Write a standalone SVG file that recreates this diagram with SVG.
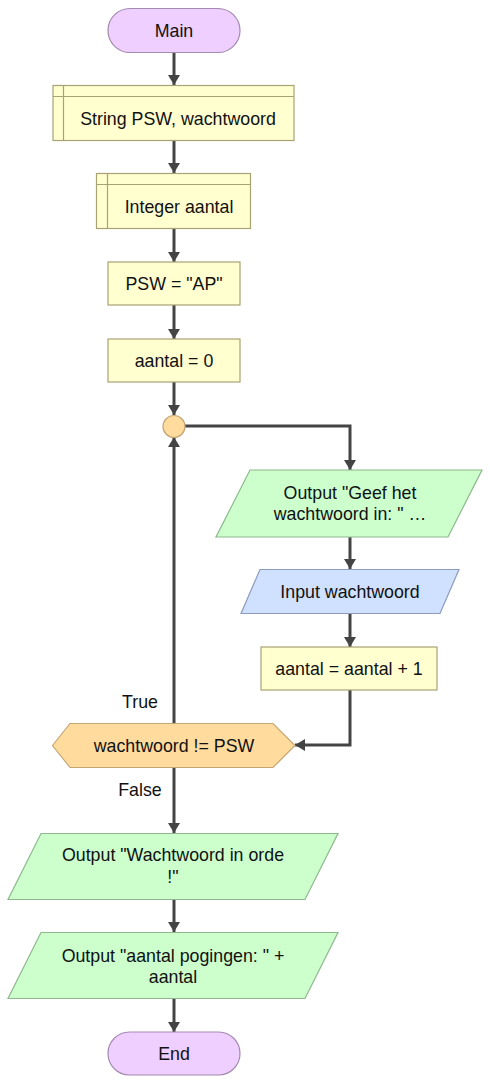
<svg xmlns="http://www.w3.org/2000/svg" width="490" height="1084" viewBox="0 0 490 1084">
<style>
text{font-family:"Liberation Sans",Arial,sans-serif;font-size:17.8px;fill:#111;text-anchor:middle}
.term{fill:#EECFFF;stroke:#A58AB0;stroke-width:1.2}
.proc{fill:#FFFFD0;stroke:#A8A274;stroke-width:1.2}
.out{fill:#CCFFCC;stroke:#8DB88D;stroke-width:1.2}
.inp{fill:#D0E0FF;stroke:#8C9CBC;stroke-width:1.2}
.dec{fill:#FFDC9E;stroke:#C4A674;stroke-width:1.2}
.conn{fill:none;stroke:#444;stroke-width:3;marker-end:url(#arr)}
</style>
<defs>
<marker id="arr" markerUnits="userSpaceOnUse" markerWidth="10" markerHeight="12" refX="10" refY="6" orient="auto">
<path d="M0,0 L10,6 L0,12 z" fill="#444"/>
</marker>
</defs>
<g id="connectors">
<path class="conn" d="M174,52 V85"/>
<path class="conn" d="M174,140 V173"/>
<path class="conn" d="M174,228 V262"/>
<path class="conn" d="M174,305 V339"/>
<path class="conn" d="M174,382 V415"/>
<path class="conn" d="M185,426 H350 V470"/>
<path class="conn" d="M350,537 V569"/>
<path class="conn" d="M350,613 V647"/>
<path class="conn" d="M350,690 V745 H295"/>
<path class="conn" d="M174,723 V437"/>
<path class="conn" d="M174,767 V833"/>
<path class="conn" d="M174,899 V932"/>
<path class="conn" d="M174,998 V1032"/>
<text x="140" y="708">True</text>
<text x="140" y="796">False</text>
</g>
<g id="main">
<rect class="term" x="108" y="8.5" width="132" height="44" rx="22"/>
<text x="174" y="36.5">Main</text>
</g>
<g id="decl1">
<rect class="proc" x="53" y="85.5" width="241" height="55"/>
<path d="M53,96.5 H294 M63.5,85.5 V140.5" fill="none" stroke="#A8A274" stroke-width="1.2"/>
<text x="178" y="124.5">String PSW, wachtwoord</text>
</g>
<g id="decl2">
<rect class="proc" x="96.5" y="173.5" width="154" height="55"/>
<path d="M96.5,184.5 H250.5 M107.5,173.5 V228.5" fill="none" stroke="#A8A274" stroke-width="1.2"/>
<text x="179" y="213">Integer aantal</text>
</g>
<g id="assign1">
<rect class="proc" x="108" y="262" width="132" height="43"/>
<text x="174" y="289.5">PSW = "AP"</text>
</g>
<g id="assign2">
<rect class="proc" x="108" y="339" width="132" height="43"/>
<text x="174" y="367">aantal = 0</text>
</g>
<g id="loop">
<circle class="dec" cx="174" cy="426.5" r="11"/>
</g>
<g id="out1">
<polygon class="out" points="250,470 482,470 448,537 216,537"/>
<text x="350" y="499">Output "Geef het</text>
<text x="350" y="520">wachtwoord in: " …</text>
</g>
<g id="input">
<polygon class="inp" points="260,569.5 459,569.5 440,613.5 241,613.5"/>
<text x="350" y="598">Input wachtwoord</text>
</g>
<g id="assign3">
<rect class="proc" x="261" y="647" width="176" height="43"/>
<text x="349" y="675">aantal = aantal + 1</text>
</g>
<g id="decision">
<polygon class="dec" points="52.5,745.5 70,723.5 273,723.5 295,745.5 273,767.5 70,767.5"/>
<text x="174" y="752">wachtwoord != PSW</text>
</g>
<g id="out2">
<polygon class="out" points="41,833.5 338,833.5 305,899.5 8,899.5"/>
<text x="173" y="861">Output "Wachtwoord in orde</text>
<text x="173" y="883">!"</text>
</g>
<g id="out3">
<polygon class="out" points="41,932.5 338,932.5 305,998.5 8,998.5"/>
<text x="173" y="962">Output "aantal pogingen: " +</text>
<text x="173" y="983">aantal</text>
</g>
<g id="end">
<rect class="term" x="108" y="1032" width="132" height="43" rx="21.5"/>
<text x="174" y="1059.5">End</text>
</g>
</svg>
